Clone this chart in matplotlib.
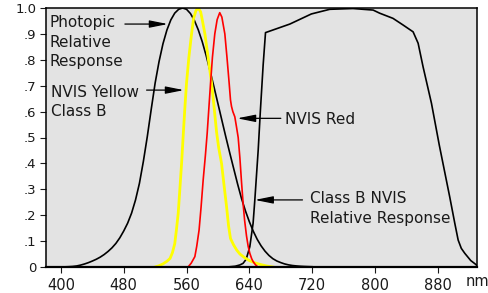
import matplotlib
matplotlib.use('Agg')
import matplotlib.pyplot as plt

# photopic relative response (CIE V(lambda)), nm / relative
photopic_nm = [405, 410, 415, 420, 425, 430, 435, 440, 445, 450, 455, 460, 465, 470, 475,
               480, 485, 490, 495, 500, 505, 510, 515, 520, 525, 530, 535, 540, 545, 550,
               555, 560, 565, 570, 575, 580, 585, 590, 595, 600, 605, 610, 615, 620, 625,
               630, 635, 640, 645, 650, 655, 660, 665, 670, 675, 680, 685, 690, 695, 700,
               705, 710, 715, 720]
photopic_val = [0.0006, 0.0012, 0.0022, 0.004, 0.0073, 0.0116, 0.0168, 0.023, 0.0298, 0.038,
                0.048, 0.06, 0.0739, 0.091, 0.1126, 0.139, 0.1693, 0.208, 0.2586, 0.323,
                0.4073, 0.503, 0.6082, 0.71, 0.7932, 0.862, 0.9149, 0.954, 0.9803, 0.995,
                1.0, 0.995, 0.9786, 0.952, 0.9154, 0.87, 0.8163, 0.757, 0.6949, 0.631,
                0.5668, 0.503, 0.4412, 0.381, 0.321, 0.265, 0.217, 0.175, 0.1382, 0.107,
                0.0816, 0.061, 0.0446, 0.032, 0.0232, 0.017, 0.0118, 0.0082, 0.0057, 0.0041,
                0.0029, 0.0021, 0.0015, 0.001]

# NVIS yellow class B
yellow_nm = [520, 525, 530, 535, 539, 542, 545, 547, 549.4, 551.5, 553.7, 556, 558, 560, 563,
             566.4, 569, 572, 575, 578, 580, 583.4, 587, 591.9, 595, 598.3, 601, 604.6, 608,
             611, 613.5, 616, 620, 624, 628, 634, 640, 647, 655, 662, 670]
yellow_val = [0.0, 0.005, 0.012, 0.022, 0.033, 0.055, 0.09, 0.14, 0.207, 0.3, 0.40, 0.52,
              0.62, 0.71, 0.81, 0.90, 0.96, 0.99, 1.0, 0.985, 0.955, 0.90, 0.82, 0.71, 0.62,
              0.52, 0.46, 0.40, 0.31, 0.233, 0.16, 0.11, 0.085, 0.065, 0.05, 0.036, 0.025,
              0.016, 0.009, 0.004, 0.0]

# NVIS red
red_nm = [562, 566, 570.6, 573, 576, 578.5, 581.2, 584, 586.3, 590.6, 593, 596, 599, 602.3,
          605, 608.8, 611.5, 614.3, 616, 617.3, 619, 621.5, 623.7, 625.8, 628, 630, 632.2,
          634, 636.4, 638.5, 640.6, 643, 645, 648, 651]
red_val = [0.0, 0.015, 0.04, 0.08, 0.143, 0.23, 0.336, 0.43, 0.516, 0.71, 0.81, 0.90, 0.955,
           0.982, 0.965, 0.90, 0.81, 0.71, 0.645, 0.62, 0.60, 0.58, 0.54, 0.50, 0.42, 0.33,
           0.24, 0.18, 0.12, 0.08, 0.053, 0.032, 0.02, 0.008, 0.0]

# class B NVIS relative response
nvis_nm = [612, 622, 628, 632, 636, 640.6, 644.8, 647, 651.3, 654, 657.6, 660.6, 691.6, 719,
           742.5, 772, 797.7, 806, 823, 836, 848.6, 855, 861.3, 872, 882, 895.3, 901.7, 906,
           910, 914.4, 922, 929.3, 930]
nvis_val = [0.0, 0.003, 0.008, 0.014, 0.03, 0.078, 0.169, 0.259, 0.452, 0.6, 0.78, 0.905,
            0.938, 0.977, 0.995, 0.998, 0.992, 0.98, 0.96, 0.934, 0.908, 0.864, 0.773, 0.632,
            0.47, 0.27, 0.169, 0.104, 0.072, 0.053, 0.025, 0.008, 0.0]

x_ticks = [400, 480, 560, 640, 720, 800, 880]
y_ticks = [0, 0.1, 0.2, 0.3, 0.4, 0.5, 0.6, 0.7, 0.8, 0.9, 1.0]
y_ticklabels = ['0', '.1', '.2', '.3', '.4', '.5', '.6', '.7', '.8', '.9', '1.0']

fig = plt.figure(figsize=(4.89, 2.93), dpi=100)
ax = fig.add_axes([46 / 489, 26 / 293, 431 / 489, 259 / 293])
ax.set_facecolor('#e3e3e3')

ax.plot(photopic_nm, photopic_val, color='black', lw=1.2)
ax.plot(nvis_nm, nvis_val, color='black', lw=1.2)
ax.plot(yellow_nm, yellow_val, color='#ffff00', lw=2.0)
ax.plot(red_nm, red_val, color='#ff0000', lw=1.2)

ax.set_xlim(381, 930)
ax.set_ylim(0, 1.0)
ax.set_xticks(x_ticks)
ax.set_yticks(y_ticks)
ax.set_yticklabels(y_ticklabels)
ax.tick_params(axis='x', length=4, width=0.8, pad=4, labelsize=10.5, colors='#1a1a1a')
ax.tick_params(axis='y', length=4, width=0.8, pad=3, labelsize=9.5, colors='#1a1a1a')
for s in ax.spines.values():
    s.set_linewidth(1.1)
ax.spines['bottom'].set_linewidth(1.6)

# labels with arrows
txt = dict(fontsize=11, color='#1a1a1a', va='baseline', ha='left')
ax.text(385.1, 0.9255, 'Photopic', **txt)
ax.text(385.1, 0.848, 'Relative', **txt)
ax.text(385.1, 0.776, 'Response', **txt)
ax.text(386.9, 0.6575, 'NVIS Yellow', **txt)
ax.text(386.9, 0.583, 'Class B', **txt)
ax.text(685.2, 0.551, 'NVIS Red', **txt)
ax.text(717, 0.246, 'Class B NVIS', **txt)
ax.text(717, 0.171, 'Relative Response', **txt)

arrow = dict(arrowstyle='-|>,head_length=1.1,head_width=0.22', color='black', lw=0.9,
             shrinkA=0, shrinkB=0)
ax.annotate('', xy=(536.2, 0.938), xytext=(481.5, 0.938), arrowprops=arrow)
ax.annotate('', xy=(556.6, 0.683), xytext=(509.1, 0.683), arrowprops=arrow)
ax.annotate('', xy=(624.5, 0.574), xytext=(680.1, 0.574), arrowprops=arrow)
ax.annotate('', xy=(647, 0.259), xytext=(707.7, 0.259), arrowprops=arrow)

fig.text(466 / 489, 6.5 / 293, 'nm', fontsize=10.5, color='#1a1a1a', va='baseline')

plt.savefig('out.png', dpi=100)
